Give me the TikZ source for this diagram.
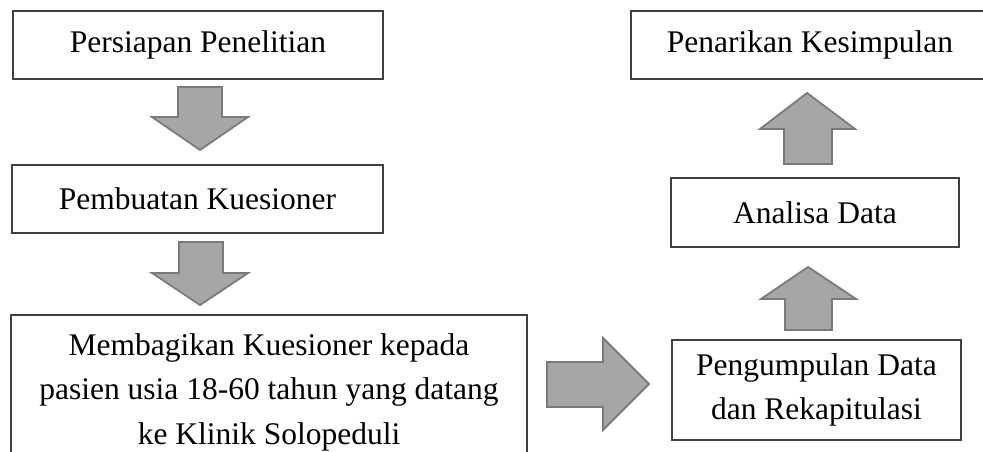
\documentclass[tikz,border=0pt]{standalone}
\usepackage{fontspec}
\setmainfont{Liberation Serif}
\definecolor{arrfill}{HTML}{A6A6A6}
\definecolor{arrline}{HTML}{7A7A7A}
\definecolor{boxline}{HTML}{404040}
\begin{document}
\begin{tikzpicture}[x=1pt,y=-1pt,
  stepbox/.style={draw=boxline, line width=1.3pt, inner sep=0pt, align=center,
    font=\fontsize{31.5}{44.5}\selectfont},
  blockarrow/.style={fill=arrfill, draw=arrline, line width=1.8pt, line join=miter}]
\useasboundingbox (0,0) rectangle (983,452);
\clip (0,0) rectangle (983,452);
% boxes
\node[stepbox, minimum width=370pt, minimum height=68pt] (b1) at (198,45) {Persiapan Penelitian};
\node[stepbox, minimum width=371pt, minimum height=68pt] (b2) at (197.5,199) {Pembuatan Kuesioner};
\node[stepbox, minimum width=516pt, minimum height=154pt] (b3) at (269,392)
  {Membagikan Kuesioner kepada\\pasien usia 18-60 tahun yang datang\\ke Klinik Solopeduli};
\node[stepbox, minimum width=358pt, minimum height=68pt] (b4) at (810,45) {Penarikan Kesimpulan};
\node[stepbox, minimum width=288pt, minimum height=69pt] (b5) at (815,212.5) {Analisa Data};
\node[stepbox, minimum width=289pt, minimum height=100pt] (b6) at (816.5,390) {Pengumpulan Data\\dan Rekapitulasi};
% block arrows
\draw[blockarrow] (178,87) -- (222,87) -- (222,117) -- (248,117) -- (200,150) -- (152,117) -- (178,117) -- cycle;
\draw[blockarrow] (179,242) -- (223,242) -- (223,273) -- (248,273) -- (200,305) -- (152,273) -- (179,273) -- cycle;
\draw[blockarrow] (547,362) -- (603,362) -- (603,338) -- (649,384) -- (603,430) -- (603,407) -- (547,407) -- cycle;
\draw[blockarrow] (785,330) -- (832,330) -- (832,299) -- (856,299) -- (808,267) -- (761,299) -- (785,299) -- cycle;
\draw[blockarrow] (784,164) -- (832,164) -- (832,129) -- (855,129) -- (807,93) -- (760,129) -- (784,129) -- cycle;
\end{tikzpicture}
\end{document}
